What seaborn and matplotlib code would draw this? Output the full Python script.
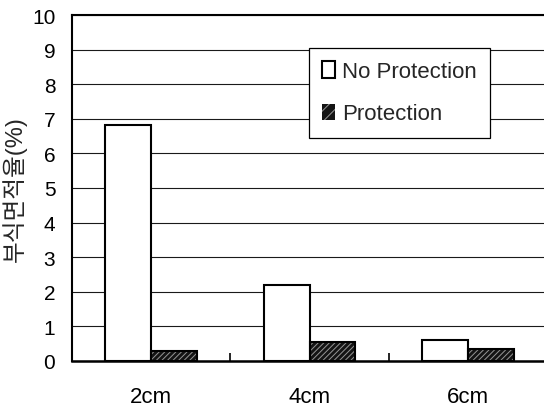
import matplotlib
matplotlib.use("Agg")
import matplotlib.pyplot as plt
from matplotlib.patches import Rectangle
import seaborn as sns
import pandas as pd

# Corrosion area ratio by cover depth, with and without protection
depths = ["2cm", "4cm", "6cm"]
no_protection = [6.83, 2.2, 0.6]
protection = [0.29, 0.55, 0.36]
series_names = ["No Protection", "Protection"]
y_ticks = list(range(0, 11))
y_label = "부식면적율(%)"

df = pd.DataFrame({
    "depth": depths * 2,
    "ratio": no_protection + protection,
    "group": [series_names[0]] * len(depths) + [series_names[1]] * len(depths),
})

sns.set_theme(style="white")
plt.rcParams["font.family"] = ["Liberation Sans", "Noto Sans CJK KR", "DejaVu Sans"]
plt.rcParams["hatch.linewidth"] = 0.7

fig = plt.figure(figsize=(5.44, 4.10), dpi=100)
ax = fig.add_axes([72 / 544, 48 / 410, 475 / 544, 346 / 410])

dark = "#141414"
hatch_col = "#969696"
palette = {series_names[0]: "white", series_names[1]: dark}
sns.barplot(data=df, x="depth", y="ratio", hue="group", order=depths,
            hue_order=series_names, palette=palette, width=0.58,
            saturation=1, ax=ax, legend=False, zorder=3)

# style bars: plain outline for unprotected, hatched dark fill for protected
n = len(depths)
outlines = []
for i, patch in enumerate(ax.patches[:2 * n]):
    if i >= n:
        patch.set_hatch("//////")
        patch.set_edgecolor(hatch_col)
        patch.set_linewidth(0)
        outline = Rectangle(patch.get_xy(), patch.get_width(), patch.get_height(),
                            fill=False, edgecolor="black", linewidth=1.5, zorder=4)
        outlines.append(outline)
    else:
        patch.set_edgecolor("black")
        patch.set_linewidth(1.5)
for o in outlines:
    ax.add_patch(o)

ax.set_xlim(-0.5, len(depths) - 0.5)
ax.set_ylim(0, 10)
ax.set_yticks(y_ticks)
ax.set_yticklabels([str(t) for t in y_ticks])
ax.set_xlabel("")
ax.set_ylabel(y_label, fontsize=17, labelpad=4)

ax.grid(axis="y", color="#1a1a1a", linewidth=0.8, zorder=0)
ax.grid(axis="x", visible=False)
ax.set_axisbelow(True)

for side in ["left", "bottom", "top", "right"]:
    ax.spines[side].set_visible(True)
    ax.spines[side].set_color("black")
ax.spines["left"].set_linewidth(1.5)
ax.spines["bottom"].set_linewidth(1.8)
ax.spines["top"].set_linewidth(1.5)
ax.spines["right"].set_linewidth(1.2)

ax.tick_params(axis="y", length=0, pad=12, labelsize=15, labelcolor="black")
ax.tick_params(axis="x", which="major", length=0, pad=18, labelsize=16, labelcolor="black")
ax.set_xticks([x + 0.5 for x in range(len(depths) - 1)], minor=True)
ax.tick_params(axis="x", which="minor", direction="in", length=6, width=1.2,
               color="black", bottom=True)

# legend with square swatches
handles = [
    Rectangle((0, 0), 1, 1, facecolor="white", edgecolor="black", linewidth=1.5),
    Rectangle((0, 0), 1, 1, facecolor=dark, edgecolor=hatch_col,
              hatch="///", linewidth=0),
]
leg = ax.legend(handles, series_names, loc="upper left",
                bbox_to_anchor=((309 - 72) / 475, (362 - 49) / 346),
                borderaxespad=0, fontsize=16, frameon=True, fancybox=False,
                handlelength=0.55, handleheight=0.75, handletextpad=0.35,
                labelspacing=0.95, borderpad=0.6)
leg.get_frame().set_edgecolor("black")
leg.get_frame().set_linewidth(0.9)
leg.get_frame().set_facecolor("white")
leg.get_frame().set_alpha(1)
leg.set_zorder(5)

fig.savefig("out.png", dpi=100)
